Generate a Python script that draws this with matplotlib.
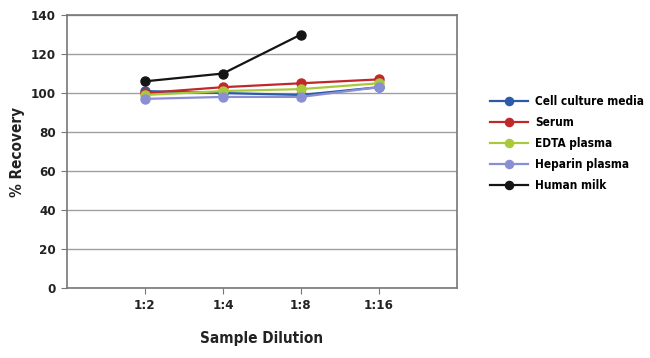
import matplotlib.pyplot as plt

dilutions = ["1:2", "1:4", "1:8", "1:16"]
cell_culture = [101, 100, 99, 103]
serum = [100, 103, 105, 107]
edta = [99, 101, 102, 105]
heparin = [97, 98, 98, 103]
human_milk = [106, 110, 130]

plt.rcParams['font.family'] = ['DejaVu Sans']
plt.rcParams['font.stretch'] = 'condensed'
plt.rcParams['font.weight'] = 'bold'
plt.rcParams['axes.labelweight'] = 'bold'

fig = plt.figure(figsize=(6.5, 3.58), dpi=100)
ax = fig.add_axes([0.103, 0.1955, 0.6, 0.7625])

x = list(range(1, len(dilutions) + 1))
series = [
    ("Cell culture media", cell_culture, "#2a5aa8"),
    ("Serum", serum, "#c0282b"),
    ("EDTA plasma", edta, "#a9c93d"),
    ("Heparin plasma", heparin, "#8a8fd4"),
    ("Human milk", human_milk, "#151515"),
]
for name, vals, col in series:
    ax.plot(x[:len(vals)], vals, color=col, marker='o', markersize=6.5, lw=1.6, label=name)

ax.set_xlim(0, 5)
ax.set_ylim(0, 140)
ax.set_yticks(range(0, 141, 20))
ax.set_xticks(x)
ax.set_xticklabels(dilutions)
ax.yaxis.grid(True, color='#a0a0a0', lw=1)
ax.set_axisbelow(True)
for s in ax.spines.values():
    s.set_color('#777777')
    s.set_linewidth(1.2)
ax.tick_params(colors='#777777', labelcolor='#222222', labelsize=9.5, length=4, pad=4)
ax.set_xlabel("Sample Dilution", fontsize=11, color='#222222')
ax.set_ylabel("% Recovery", fontsize=11, color='#222222')
ax.xaxis.set_label_coords(0.5, -0.157)
ax.yaxis.set_label_coords(-0.108, 0.5)

fig.legend(loc='center left', bbox_to_anchor=(0.738, 0.6), frameon=False,
           fontsize=8.5, handlelength=3.2, handletextpad=0.6, labelspacing=0.68,
           markerscale=0.9)

fig.savefig("out.png", dpi=100)
